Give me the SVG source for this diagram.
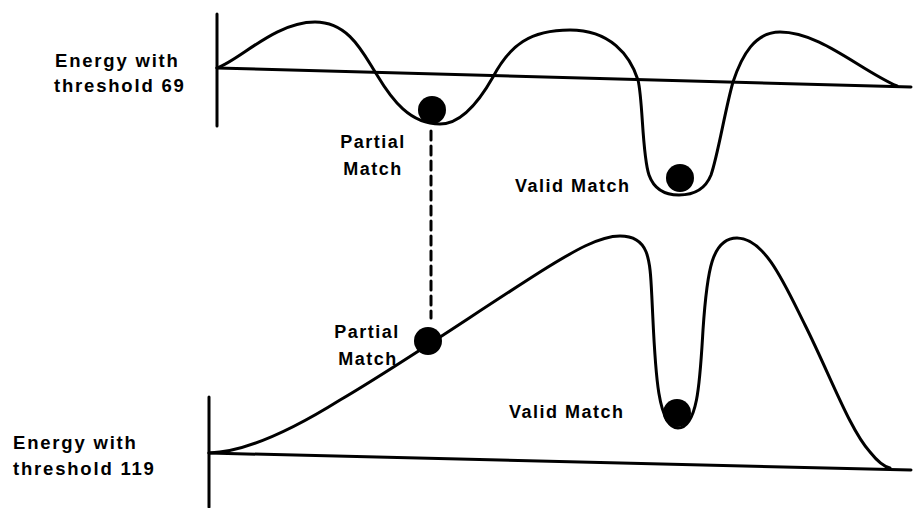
<svg xmlns="http://www.w3.org/2000/svg" width="913" height="508" viewBox="0 0 913 508">
<style>
.ln{fill:none;stroke:#000;stroke-width:3;stroke-linecap:round;stroke-linejoin:round}
.t{font-family:"Liberation Sans",Arial,sans-serif;font-weight:bold;font-size:18px;letter-spacing:1.5px;fill:#000}
.ax{font-size:18.5px;letter-spacing:1.8px}
.ball{fill:#000}
</style>
<rect width="913" height="508" fill="#fff"/>
<g id="top-graph">
<line class="ln" x1="217" y1="14" x2="217" y2="126"/>
<line class="ln" x1="217" y1="68" x2="911" y2="87"/>
<path class="ln" d="M217,68 C240,60 275,22 315,22 C350,22 364,55 377,75 C392,100 410,124 440,124 C462,124 480,100 493,77 C510,45 530,30 570,30 C610,30 630,55 638,80 C643,100 642,155 649,175 C655,192 668,195 679,195 C692,195 705,190 711,175 C718,155 725,110 733,82 C742,55 755,32 780,32 C820,32 860,70 897,86"/>
</g>
<g id="bottom-graph">
<line class="ln" x1="209" y1="397" x2="209" y2="507"/>
<line class="ln" x1="209" y1="453" x2="911" y2="470"/>
<path class="ln" d="M209,453 C250,452 300,425 340,400 C400,365 480,310 540,272 C575,250 600,236 620,236 C650,236 650,260 652,300 C655,360 656,428 678,428 C698,428 700,380 703,330 C707,270 712,238 737,238 C765,238 785,285 805,325 C830,375 850,430 870,452 C878,462 885,467 890,468"/>
</g>
<g id="label-top-axis"><text class="t ax" x="55" y="67">Energy with</text><text class="t ax" x="54" y="92">threshold 69</text></g>
<g id="label-bottom-axis"><text class="t ax" x="13" y="449">Energy with</text><text class="t ax" x="13" y="475">threshold 119</text></g>
<g id="partial-top"><circle class="ball" cx="432" cy="110" r="14"/><text class="t" x="373" y="148" text-anchor="middle">Partial</text><text class="t" x="373" y="175" text-anchor="middle">Match</text></g>
<g id="valid-top"><circle class="ball" cx="680" cy="178" r="14"/><text class="t" x="515" y="192">Valid Match</text></g>
<g id="partial-bottom"><circle class="ball" cx="428" cy="341" r="14"/><text class="t" x="367" y="338" text-anchor="middle">Partial</text><text class="t" x="368" y="365" text-anchor="middle">Match</text></g>
<g id="valid-bottom"><circle class="ball" cx="677" cy="413" r="14"/><text class="t" x="509" y="418">Valid Match</text></g>
<g id="connectors"><line class="ln" x1="431" y1="131" x2="431" y2="318" stroke-dasharray="9 6" stroke-linecap="butt"/></g>
</svg>
